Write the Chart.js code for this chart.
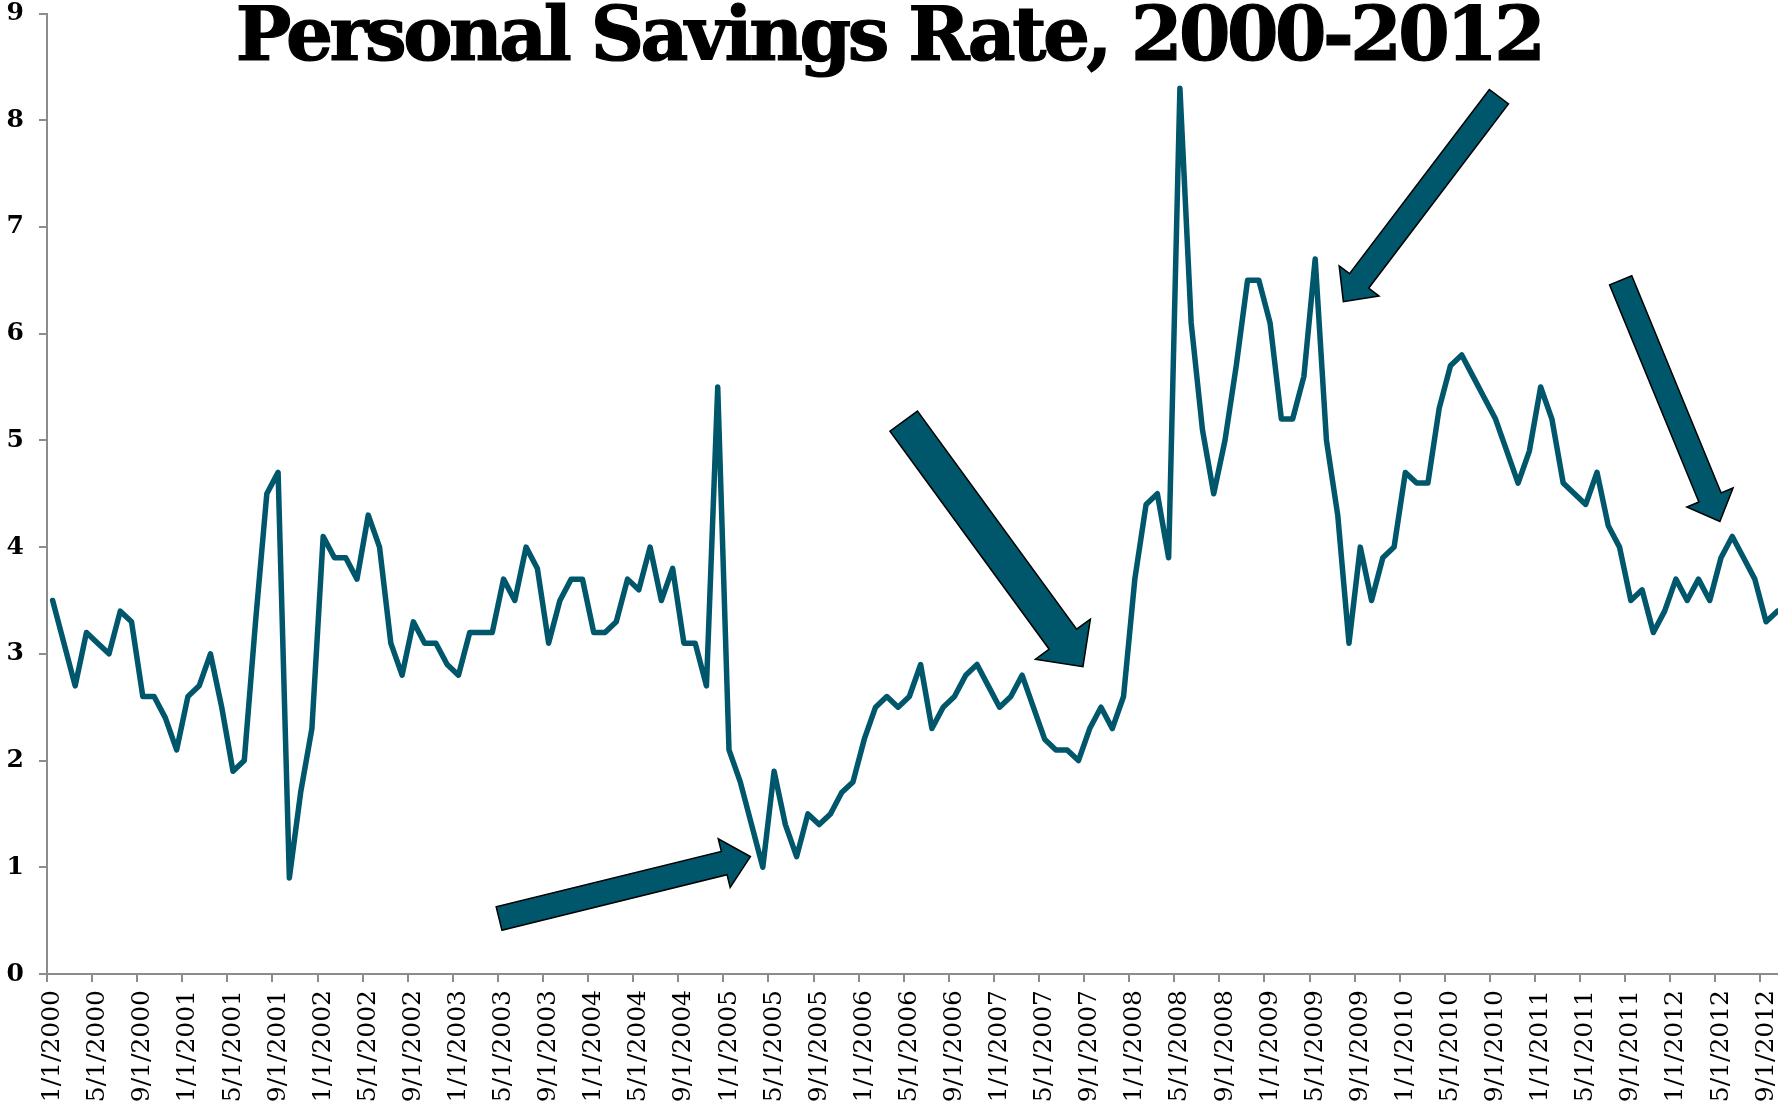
<!DOCTYPE html>
<html>
<head>
<meta charset="utf-8">
<title>Personal Savings Rate, 2000-2012</title>
<script src="https://cdn.jsdelivr.net/npm/chart.js@4.4.1/dist/chart.umd.min.js"></script>
<style>
  html, body { margin: 0; padding: 0; background: #fff; overflow: hidden; }
  #wrap { position: absolute; left: 0; top: 0; width: 1783px; height: 1105px; }
  #titulo {
    position: absolute; left: 0; top: -3px; width: 1778px;
    text-align: center; font-family: "DejaVu Serif", serif; font-weight: bold;
    font-size: 74px; line-height: 1; letter-spacing: -3.5px; color: #000;
    -webkit-text-stroke: 1.2px #000;
    pointer-events: none;
  }
</style>
</head>
<body>
<div id="wrap"><canvas id="poupanca"></canvas></div>
<div id="titulo">Personal Savings Rate, 2000-2012</div>
<script>
// --- Dados: taxa de poupança pessoal (%), mensal, jan/2000 a out/2012 ---
const startYear = 2000;
const startMonth = 1;

const savingsRate = [
  // 2000
  3.5, 3.1, 2.7, 3.2, 3.1, 3.0, 3.4, 3.3, 2.6, 2.6, 2.4, 2.1,
  // 2001
  2.6, 2.7, 3.0, 2.5, 1.9, 2.0, 3.3, 4.5, 4.7, 0.9, 1.7, 2.3,
  // 2002
  4.1, 3.9, 3.9, 3.7, 4.3, 4.0, 3.1, 2.8, 3.3, 3.1, 3.1, 2.9,
  // 2003
  2.8, 3.2, 3.2, 3.2, 3.7, 3.5, 4.0, 3.8, 3.1, 3.5, 3.7, 3.7,
  // 2004
  3.2, 3.2, 3.3, 3.7, 3.6, 4.0, 3.5, 3.8, 3.1, 3.1, 2.7, 5.5,
  // 2005
  2.1, 1.8, 1.4, 1.0, 1.9, 1.4, 1.1, 1.5, 1.4, 1.5, 1.7, 1.8,
  // 2006
  2.2, 2.5, 2.6, 2.5, 2.6, 2.9, 2.3, 2.5, 2.6, 2.8, 2.9, 2.7,
  // 2007
  2.5, 2.6, 2.8, 2.5, 2.2, 2.1, 2.1, 2.0, 2.3, 2.5, 2.3, 2.6,
  // 2008
  3.7, 4.4, 4.5, 3.9, 8.3, 6.1, 5.1, 4.5, 5.0, 5.7, 6.5, 6.5,
  // 2009
  6.1, 5.2, 5.2, 5.6, 6.7, 5.0, 4.3, 3.1, 4.0, 3.5, 3.9, 4.0,
  // 2010
  4.7, 4.6, 4.6, 5.3, 5.7, 5.8, 5.6, 5.4, 5.2, 4.9, 4.6, 4.9,
  // 2011
  5.5, 5.2, 4.6, 4.5, 4.4, 4.7, 4.2, 4.0, 3.5, 3.6, 3.2, 3.4,
  // 2012
  3.7, 3.5, 3.7, 3.5, 3.9, 4.1, 3.9, 3.7, 3.3, 3.4
];

// Rótulos de mês no formato M/1/AAAA
const monthLabels = savingsRate.map((_, i) => {
  const m = (startMonth - 1 + i) % 12 + 1;
  const y = startYear + Math.floor((startMonth - 1 + i) / 12);
  return `${m}/1/${y}`;
});
const labelEvery = 4;

const yMin = 0;
const yMax = 9;

// Setas de destaque: cauda e ponta em coordenadas do gráfico (índice do mês, valor)
const arrowTails = [[39.6, 0.52], [75.5, 5.18], [128.3, 8.22], [139.1, 6.50]];
const arrowTips  = [[61.9, 1.10], [91.4, 2.88], [114.5, 6.30], [147.9, 4.24]];
const arrowShaft = [24, 34, 24, 24];
const arrowHeadW = [50, 68, 50, 50];
const arrowHeadL = [27, 34, 26, 26];

// --- Cores ---
const LINE_COLOR = '#00566b';
const AXIS_GRAY = '#8c8c8c';

// --- Plugin para desenhar as setas em bloco ---
const blockArrows = {
  id: 'blockArrows',
  afterDatasetsDraw(chart) {
    const { ctx, scales: { x, y } } = chart;
    ctx.save();
    arrowTails.forEach((tail, k) => {
      const tip = arrowTips[k];
      const x0 = x.getPixelForValue(tail[0]), y0 = y.getPixelForValue(tail[1]);
      const x1 = x.getPixelForValue(tip[0]), y1 = y.getPixelForValue(tip[1]);
      const len = Math.hypot(x1 - x0, y1 - y0);
      const ux = (x1 - x0) / len, uy = (y1 - y0) / len;
      const nx = -uy, ny = ux;
      const sw = arrowShaft[k] / 2, hw = arrowHeadW[k] / 2, hl = arrowHeadL[k];
      const bx = x1 - ux * hl, by = y1 - uy * hl;
      ctx.beginPath();
      ctx.moveTo(x0 + nx * sw, y0 + ny * sw);
      ctx.lineTo(bx + nx * sw, by + ny * sw);
      ctx.lineTo(bx + nx * hw, by + ny * hw);
      ctx.lineTo(x1, y1);
      ctx.lineTo(bx - nx * hw, by - ny * hw);
      ctx.lineTo(bx - nx * sw, by - ny * sw);
      ctx.lineTo(x0 - nx * sw, y0 - ny * sw);
      ctx.closePath();
      ctx.fillStyle = LINE_COLOR;
      ctx.fill();
      ctx.lineWidth = 1.5;
      ctx.strokeStyle = '#000';
      ctx.lineJoin = 'miter';
      ctx.stroke();
    });
    ctx.restore();
  }
};

const ctx = document.getElementById('poupanca');
new Chart(ctx, {
  type: 'line',
  data: {
    labels: monthLabels,
    datasets: [{
      label: 'Personal Savings Rate',
      data: savingsRate,
      borderColor: LINE_COLOR,
      borderWidth: 5.5,
      borderJoinStyle: 'round',
      borderCapStyle: 'round',
      pointRadius: 0,
      tension: 0,
      fill: false
    }]
  },
  options: {
    animation: false,
    responsive: true,
    maintainAspectRatio: false,
    layout: { padding: { top: 13.5, right: 0, bottom: 0, left: 0 } },
    plugins: {
      legend: { display: false },
      title: { display: false },
      tooltip: { enabled: false }
    },
    scales: {
      x: {
        type: 'category',
        offset: true,
        grid: {
          offset: true,
          drawOnChartArea: false,
          drawTicks: true,
          tickLength: 8,
          lineWidth: 2,
          tickColor: c => (c.index % labelEvery === 0 ? AXIS_GRAY : 'rgba(0,0,0,0)')
        },
        border: { display: true, color: AXIS_GRAY, width: 2 },
        ticks: {
          autoSkip: false,
          minRotation: 90,
          maxRotation: 90,
          padding: 8,
          color: '#000',
          font: { family: '"DejaVu Serif", serif', size: 25 },
          callback: function (val, idx) {
            return idx % labelEvery === 0 ? this.getLabelForValue(val) : '';
          }
        },
        afterFit: s => { s.height = 131; s.paddingLeft = 0; s.paddingRight = 0; }
      },
      y: {
        min: yMin,
        max: yMax,
        grid: {
          drawOnChartArea: false,
          drawTicks: true,
          tickLength: 8,
          lineWidth: 2,
          color: AXIS_GRAY
        },
        border: { display: true, color: AXIS_GRAY, width: 2 },
        ticks: {
          stepSize: 1,
          padding: 15,
          color: '#000',
          font: { family: '"DejaVu Serif", serif', size: 25, weight: 'bold' }
        },
        afterFit: s => { s.width = 47; s.paddingTop = 0; s.paddingBottom = 0; }
      }
    }
  },
  plugins: [blockArrows]
});
</script>
</body>
</html>
